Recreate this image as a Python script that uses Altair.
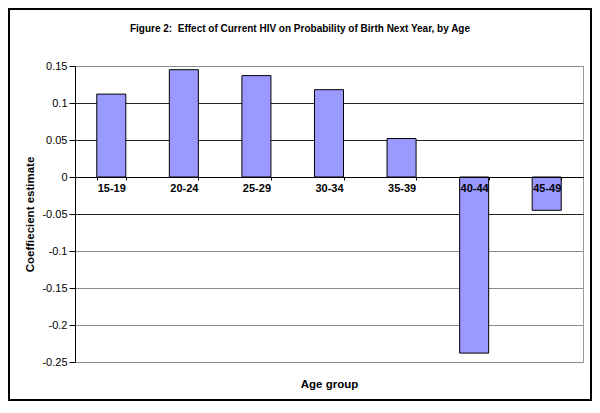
import altair as alt
import pandas as pd

age_groups = ["15-19", "20-24", "25-29", "30-34", "35-39", "40-44", "45-49"]
coefficients = [0.112, 0.145, 0.137, 0.118, 0.052, -0.238, -0.045]
y_ticks = [-0.25, -0.2, -0.15, -0.1, -0.05, 0, 0.05, 0.1, 0.15]

df = pd.DataFrame({"age": age_groups, "coef": coefficients})

FONT = "Liberation Sans"

x_enc = alt.X(
    "age:N",
    sort=age_groups,
    scale=alt.Scale(paddingInner=0.6, paddingOuter=0.3),
    axis=alt.Axis(
        orient="bottom",
        offset=-185,
        title="Age group",
        titleY=210,
        titleBaseline="alphabetic",
        titleFontSize=11.5,
        titleFontWeight="bold",
        titleColor="black",
        labelAngle=0,
        labelFontWeight="bold",
        labelFontSize=11,
        labelColor="black",
        labelPadding=2,
        tickBand="extent",
        tickSize=3,
        tickColor="black",
        domainColor="black",
        grid=False,
        zindex=1,
    ),
)

y_enc = alt.Y(
    "coef:Q",
    scale=alt.Scale(domain=[-0.25, 0.15], nice=False, zero=False),
    axis=alt.Axis(
        values=y_ticks,
        title="Coeffiecient estimate",
        labelExpr="'' + round(datum.value * 100) / 100",
        tickSize=6,
        tickColor="black",
        labelPadding=2,
        labelFontSize=11,
        labelColor="black",
        titleFontSize=11.5,
        titleFontWeight="bold",
        titleColor="black",
        titlePadding=6,
        domainColor="black",
        gridColor={
            "condition": {"test": "datum.value > -0.07 && datum.value < 0.12", "value": "#222222"},
            "value": "#8c8c8c",
        },
        gridOpacity=1,
    ),
)

bars = alt.Chart(df).mark_bar(
    color="#9999FF", stroke="black", strokeWidth=1
).encode(x=x_enc, y=y_enc, y2=alt.datum(0))

frame = alt.Chart(pd.DataFrame({"f": [0]})).mark_rect(
    fillOpacity=0, stroke="black", strokeWidth=2
).encode(
    x=alt.value(-66), x2=alt.value(516), y=alt.value(-57), y2=alt.value(334)
)

chart = alt.layer(bars, frame).properties(
    width=508,
    height=296,
    autosize=alt.AutoSizeParams(type="none"),
    padding={"left": 67, "top": 58, "right": 9, "bottom": 39},
    title=alt.TitleParams(
        text="Figure 2:\u00a0 Effect of Current HIV on Probability of Birth Next Year, by Age",
        fontSize=10,
        fontWeight="bold",
        font=FONT,
        color="black",
        anchor="middle",
        frame="group",
        dx=-29,
        offset=-26,
    ),
).configure(
    font=FONT,
).configure_view(
    stroke="#999999", strokeWidth=1
)

chart.save("out.html", embed_options={"renderer": "svg", "actions": False})
